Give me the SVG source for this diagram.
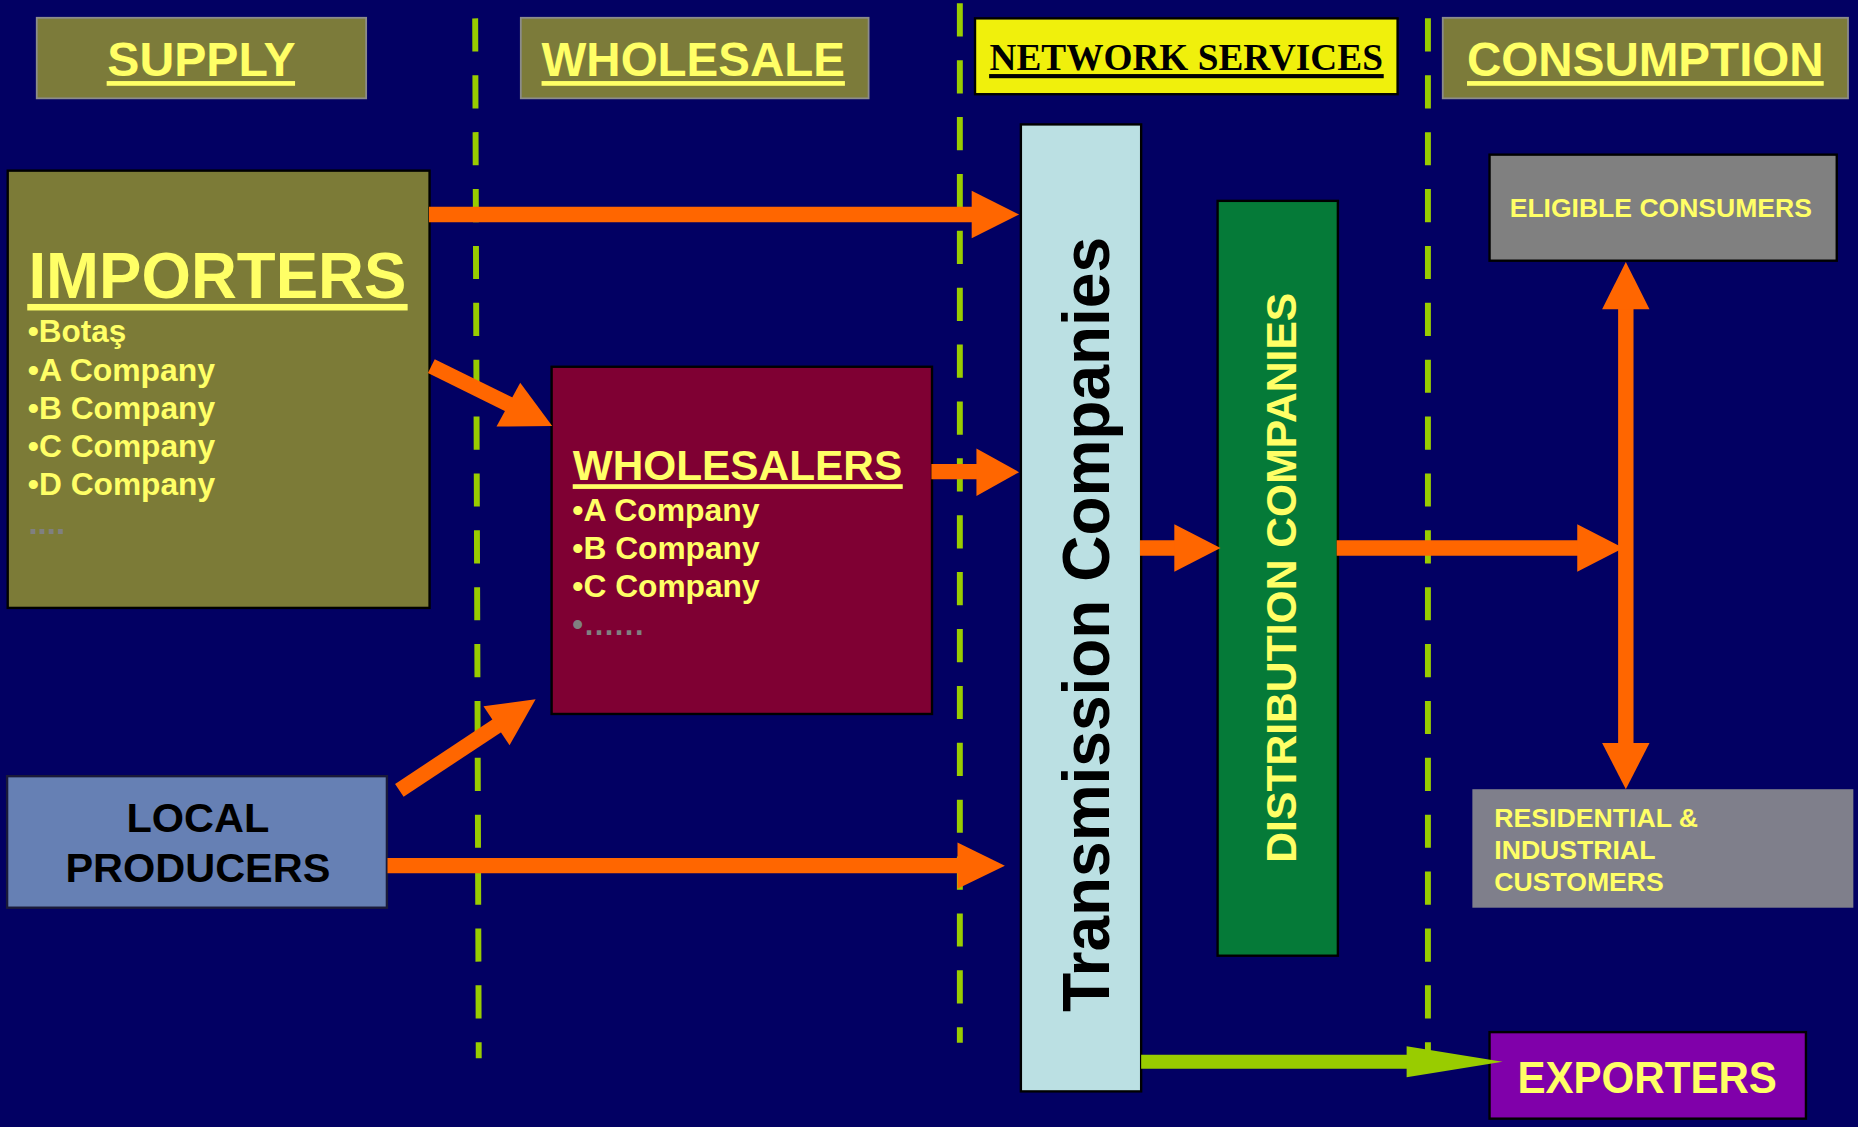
<svg xmlns="http://www.w3.org/2000/svg" width="1858" height="1127" viewBox="0 0 1858 1127">
<style>
.bg{fill:#020063}
.hdr{fill:#7C7B3A;stroke:#8C8C8C;stroke-width:1.5}
.hdrtxt{font-family:"Liberation Sans",Arial,sans-serif;font-weight:bold;font-size:40px;fill:#FFFF66;text-anchor:middle}
.ul{fill:#FFFF66}
.lane{stroke:#99CC00;stroke-width:5;stroke-dasharray:28 20;fill:none}
.box{stroke:#000;stroke-width:2}
.ytxt{font-family:"Liberation Sans",Arial,sans-serif;font-weight:bold;fill:#FFFF66}
.btxt{font-family:"Liberation Sans",Arial,sans-serif;font-weight:bold;fill:#000}
.item{font-size:26.5px}
.shaft{stroke:#FF6600;stroke-width:13;fill:none}
.head{fill:#FF6600}
</style>
<rect class="bg" x="0" y="0" width="1858" height="1127"/>
<g transform="scale(1.185)">
  <g id="lanes">
    <line class="lane" x1="401" y1="15.5" x2="404" y2="893"/>
    <line class="lane" x1="810" y1="2.8" x2="810" y2="880"/>
    <line class="lane" x1="1205" y1="15.5" x2="1205" y2="888"/>
  </g>
  <g id="hdr-supply">
    <rect class="hdr" x="31" y="15" width="278" height="68"/>
    <text class="hdrtxt" x="170" y="64" textLength="159" lengthAdjust="spacingAndGlyphs">SUPPLY</text>
    <rect class="ul" x="90" y="68.4" width="159" height="4"/>
  </g>
  <g id="hdr-wholesale">
    <rect class="hdr" x="439.5" y="15" width="293.5" height="68"/>
    <text class="hdrtxt" x="585" y="64" textLength="256" lengthAdjust="spacingAndGlyphs">WHOLESALE</text>
    <rect class="ul" x="457" y="68.4" width="256" height="4"/>
  </g>
  <g id="hdr-network">
    <rect x="822.8" y="15.5" width="356.6" height="64" fill="#F0F00C" stroke="#000" stroke-width="2"/>
    <text x="1001" y="59" font-family="'Liberation Serif','Times New Roman',serif" font-weight="bold" font-size="32" fill="#000" text-anchor="middle" textLength="332" lengthAdjust="spacingAndGlyphs">NETWORK SERVICES</text>
    <rect x="834.7" y="62.5" width="333" height="3.5" fill="#000"/>
  </g>
  <g id="hdr-consumption">
    <rect class="hdr" x="1217.5" y="15" width="342" height="68"/>
    <text class="hdrtxt" x="1388.5" y="64" textLength="301" lengthAdjust="spacingAndGlyphs">CONSUMPTION</text>
    <rect class="ul" x="1238" y="68.4" width="301" height="4"/>
  </g>

  <g id="importers">
    <rect class="box" x="6.5" y="144" width="356" height="369" fill="#7C7B37"/>
    <text class="ytxt" x="24" y="251.6" font-size="55" textLength="319" lengthAdjust="spacingAndGlyphs">IMPORTERS</text>
    <rect class="ul" x="23" y="256.5" width="321" height="5.5"/>
    <text class="ytxt item" x="23.5" y="289" textLength="83" lengthAdjust="spacingAndGlyphs">•Botaş</text>
    <text class="ytxt item" x="23.5" y="321.6" textLength="158" lengthAdjust="spacingAndGlyphs">•A Company</text>
    <text class="ytxt item" x="23.5" y="353.7" textLength="158" lengthAdjust="spacingAndGlyphs">•B Company</text>
    <text class="ytxt item" x="23.5" y="386" textLength="158" lengthAdjust="spacingAndGlyphs">•C Company</text>
    <text class="ytxt item" x="23.5" y="417.8" textLength="158" lengthAdjust="spacingAndGlyphs">•D Company</text>
    <text x="24" y="451" font-family="'Liberation Sans',Arial,sans-serif" font-weight="bold" font-size="28" fill="#808080" textLength="31" lengthAdjust="spacing">....</text>
  </g>

  <g id="wholesalers">
    <rect class="box" x="465.5" y="309.5" width="321" height="293" fill="#7F0033"/>
    <text class="ytxt" x="483.3" y="405" font-size="36" textLength="278" lengthAdjust="spacingAndGlyphs">WHOLESALERS</text>
    <rect class="ul" x="483.3" y="408.6" width="278.5" height="4"/>
    <text class="ytxt item" x="483" y="439.4" textLength="158" lengthAdjust="spacingAndGlyphs">•A Company</text>
    <text class="ytxt item" x="483" y="471.8" textLength="158" lengthAdjust="spacingAndGlyphs">•B Company</text>
    <text class="ytxt item" x="483" y="504" textLength="158" lengthAdjust="spacingAndGlyphs">•C Company</text>
    <text x="483" y="536" font-family="'Liberation Sans',Arial,sans-serif" font-weight="bold" font-size="26" fill="#808080" textLength="60" lengthAdjust="spacing">•......</text>
  </g>

  <g id="local-producers">
    <rect x="6" y="655" width="320.5" height="111" fill="#6680B4" stroke="#1a1a3a" stroke-width="2"/>
    <text class="btxt" x="167" y="702" font-size="35" text-anchor="middle">LOCAL</text>
    <text class="btxt" x="167" y="744" font-size="35" text-anchor="middle">PRODUCERS</text>
  </g>

  <g id="transmission">
    <rect class="box" x="861.5" y="105" width="101.5" height="816" fill="#BBE0E3"/>
    <text class="btxt" transform="translate(936,527) rotate(-90)" x="0" y="0" font-size="57" text-anchor="middle" textLength="654" lengthAdjust="spacingAndGlyphs">Transmission Companies</text>
  </g>

  <g id="distribution">
    <rect class="box" x="1027.5" y="169.5" width="101.5" height="637" fill="#057A38"/>
    <text class="ytxt" transform="translate(1093.4,487.5) rotate(-90)" x="0" y="0" font-size="36" text-anchor="middle" textLength="481" lengthAdjust="spacingAndGlyphs">DISTRIBUTION COMPANIES</text>
  </g>

  <g id="eligible-consumers">
    <rect class="box" x="1257" y="130.5" width="293" height="89.5" fill="#808080"/>
    <text class="ytxt" x="1401.5" y="183" font-size="21" text-anchor="middle" textLength="255" lengthAdjust="spacingAndGlyphs">ELIGIBLE CONSUMERS</text>
  </g>

  <g id="residential-industrial">
    <rect x="1242.5" y="666" width="321.5" height="100" fill="#7F7F8B"/>
    <text class="ytxt" x="1261" y="698" font-size="21.5" textLength="172" lengthAdjust="spacingAndGlyphs">RESIDENTIAL &amp;</text>
    <text class="ytxt" x="1261" y="725" font-size="21.5" textLength="136" lengthAdjust="spacingAndGlyphs">INDUSTRIAL</text>
    <text class="ytxt" x="1261" y="751.5" font-size="21.5" textLength="143" lengthAdjust="spacingAndGlyphs">CUSTOMERS</text>
  </g>

  <g id="exporters">
    <rect class="box" x="1257" y="871" width="267" height="73" fill="#8000AA"/>
    <text class="ytxt" x="1390" y="922" font-size="38" text-anchor="middle" textLength="219" lengthAdjust="spacingAndGlyphs">EXPORTERS</text>
  </g>

  <g id="connectors">
    <line class="shaft" x1="362" y1="181" x2="822" y2="181"/>
    <polygon class="head" points="820,161 860,181 820,201"/>

    <line class="shaft" x1="364" y1="309" x2="431" y2="342"/>
    <polygon class="head" points="466,359.5 419,360 439,323"/>

    <line class="shaft" x1="786" y1="398" x2="826" y2="398"/>
    <polygon class="head" points="824,378.5 860,398.5 824,418.5"/>

    <line class="shaft" x1="337" y1="667" x2="420" y2="612"/>
    <polygon class="head" points="452,590 408,596 430,629"/>

    <line class="shaft" x1="327" y1="730.5" x2="810" y2="730.5"/>
    <polygon class="head" points="808,711 848,730.5 808,750"/>

    <line class="shaft" x1="962" y1="462.5" x2="993" y2="462.5"/>
    <polygon class="head" points="991,442.5 1030,462.5 991,482.5"/>

    <line class="shaft" x1="1128" y1="462.5" x2="1333" y2="462.5"/>
    <polygon class="head" points="1331,442.5 1370,462.5 1331,482.5"/>

    <line class="shaft" x1="1372" y1="258" x2="1372" y2="630"/>
    <polygon class="head" points="1372,221 1352,261 1392,261"/>
    <polygon class="head" points="1352,627 1392,627 1372,666"/>

    <line x1="963" y1="896" x2="1190" y2="896" stroke="#99CC00" stroke-width="12"/>
    <polygon points="1187,883 1268,896 1187,909" fill="#99CC00"/>
  </g>
</g>
</svg>
